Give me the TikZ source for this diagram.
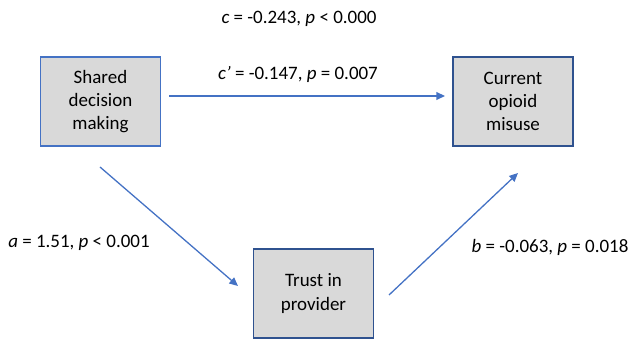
\documentclass[tikz,border=0pt]{standalone}
\usepackage{fontspec}
\setmainfont{Carlito}
\usetikzlibrary{arrows.meta}
\definecolor{boxblue}{HTML}{4472C4}
\definecolor{boxnavy}{HTML}{2F528F}
\definecolor{boxgray}{HTML}{D9D9D9}

\begin{document}
\begin{tikzpicture}[x=0.58pt, y=-0.58pt, font=\fontsize{11}{13.4}\selectfont,
	var/.style={draw=boxnavy, fill=boxgray, line width=0.9pt, align=center, minimum width=69.6pt, minimum height=51.6pt, inner sep=0pt},
	path/.style={draw=boxblue, line width=0.75pt, -{Triangle[length=5pt,width=4.5pt]}}]
	\useasboundingbox (0,0) rectangle (630,341);
	\node[var, draw=boxblue] (sdm) at (100.5,101.5) {Shared\\decision\\making};
	\node[var] (com) at (513,101.5) {Current\\opioid\\misuse};
	\node[var] (tip) at (313.5,293.5) {Trust in\\provider};
	\coordinate (sdm-out) at (169,96);
	\coordinate (com-in) at (445,96);
	\coordinate (sdm-down) at (100,167);
	\coordinate (tip-in) at (238,286);
	\coordinate (tip-out) at (389,295);
	\coordinate (com-down) at (518,173);
	\draw[path] (sdm-out) -- (com-in);
	\draw[path] (sdm-down) -- (tip-in);
	\draw[path] (tip-out) -- (com-down);
	\node (ctotal) at (299,19) {\textit{c} = -0.243, \textit{p} < 0.000};
	\node (cdirect) at (298,74) {\textit{c’} = -0.147, \textit{p} = 0.007};
	\node (apath) at (79,243) {\textit{a} = 1.51, \textit{p} < 0.001};
	\node (bpath) at (550,247) {\textit{b} = -0.063, \textit{p} = 0.018};
\end{tikzpicture}
\end{document}
